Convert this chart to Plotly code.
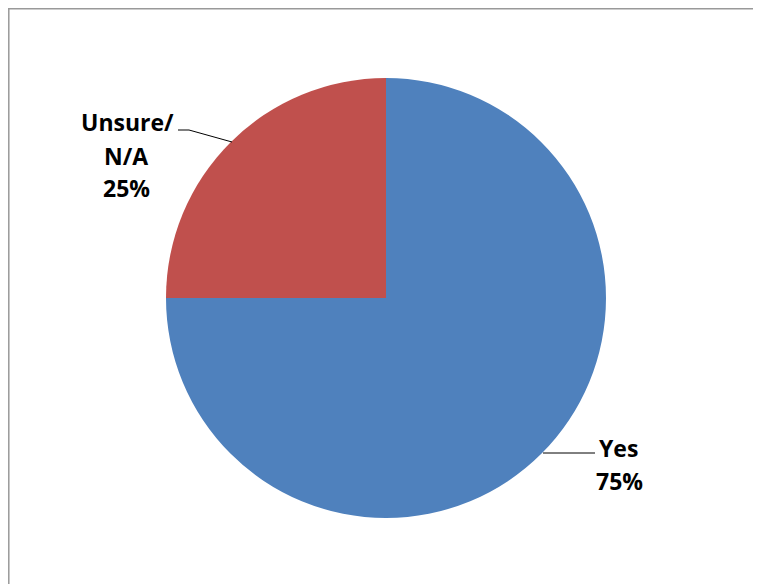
import plotly.graph_objects as go

# Data
labels = ["Yes", "Unsure/\nN/A"]
values = [75, 25]
colors = ["#4F81BD", "#C0504D"]

OFF = 8  # page body margin offset
W, H = 761 - OFF, 584 - OFF

def px(x):
    return (x - OFF) / W

def py(y):
    return 1 - (y - OFF) / H

fig = go.Figure(
    go.Pie(
        labels=[l.replace("\n", " ") for l in labels],
        values=values,
        sort=False,
        direction="clockwise",
        rotation=0,
        marker=dict(colors=colors, line=dict(width=0)),
        textinfo="none",
        hoverinfo="label+percent",
        showlegend=False,
        domain=dict(x=[px(166), px(606)], y=[py(518), py(78)]),
    )
)

total = sum(values)
pcts = [f"{round(v / total * 100)}%" for v in values]

font = dict(family="Open Sans", size=23, color="#000000")

label_lines = [labels[i].split("\n") + [pcts[i]] for i in range(len(labels))]

yes_pos = [(618, 448), (619, 481)]
uns_pos = [(127, 122), (126, 156), (126, 188)]

annotations = []
for lines, pos in [(label_lines[0], yes_pos), (label_lines[1], uns_pos)]:
    for t, (x, y) in zip(lines, pos):
        annotations.append(
            dict(
                text=f"<b>{t}</b>",
                x=px(x),
                y=py(y),
                xref="paper",
                yref="paper",
                xanchor="center",
                yanchor="middle",
                showarrow=False,
                font=font,
            )
        )

shapes = [
    dict(type="line", xref="paper", yref="paper",
         x0=px(543), y0=py(453), x1=px(595), y1=py(453),
         line=dict(color="#000000", width=1)),
    dict(type="path", xref="paper", yref="paper",
         path=f"M {px(178)},{py(130)} L {px(189)},{py(130)} L {px(232)},{py(142)}",
         line=dict(color="#000000", width=1)),
    dict(type="line", xref="paper", yref="paper",
         x0=0, y0=py(8.8), x1=1, y1=py(8.8),
         line=dict(color="#999999", width=1.5)),
    dict(type="line", xref="paper", yref="paper",
         x0=px(8.8), y0=py(8.8), x1=px(8.8), y1=0,
         line=dict(color="#999999", width=1.5)),
]

fig.update_layout(
    width=W,
    height=H,
    margin=dict(l=0, r=0, t=0, b=0),
    paper_bgcolor="white",
    plot_bgcolor="white",
    annotations=annotations,
    shapes=shapes,
)

fig.write_html("out.html")
